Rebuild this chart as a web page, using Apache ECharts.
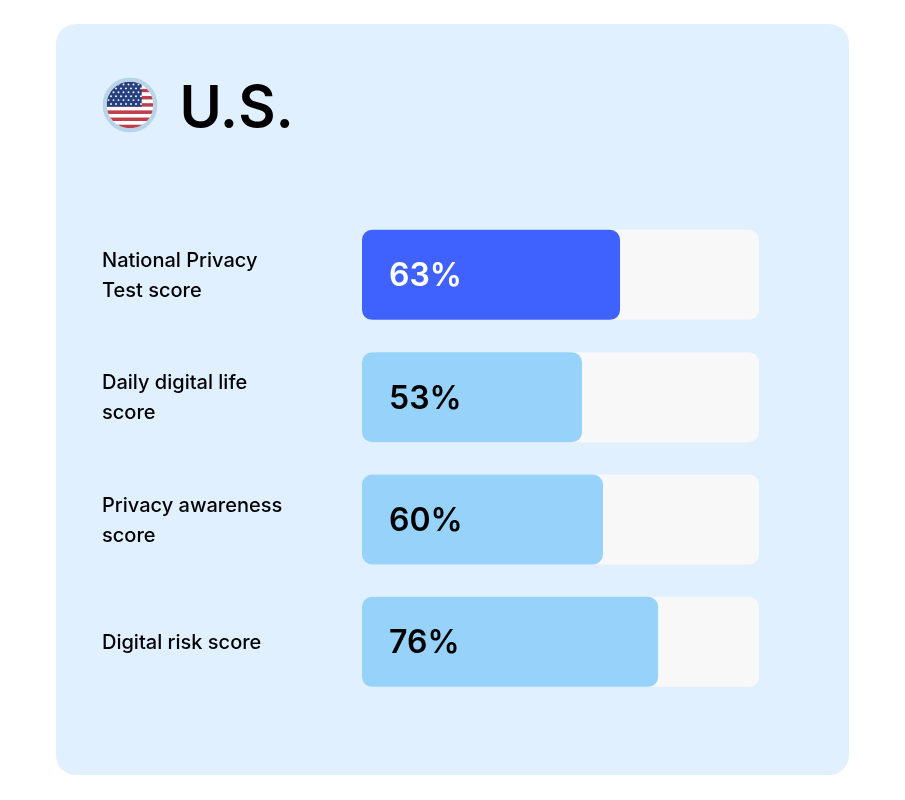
<!DOCTYPE html>
<html><head><meta charset="utf-8">
<style>html,body{margin:0;padding:0;background:#fff}#c{width:905px;height:800px}</style>
<script src="https://cdn.jsdelivr.net/npm/echarts@6/dist/echarts.min.js"></script>
</head><body><div id="c"></div>
<script>
const categories = ['National Privacy\nTest score','Daily digital life\nscore','Privacy awareness\nscore','Digital risk score'];
const scoreLabels = [63,53,60,76];
// Bar lengths as drawn in the picture, in percent of the grey track
const barLengths = [65,55.4,60.7,74.6];
const trackValues = [100,100,100,100];
const barColors = ['#3F62FF','#97D2FA','#97D2FA','#97D2FA'];
const labelColors = ['#FFFFFF','#000000','#000000','#000000'];

function flagSvg(){
  let s='';
  for(let i=0;i<13;i++){s+=`<rect x="106.7" y="${(81.7+i*3.585).toFixed(2)}" width="46.6" height="3.6" fill="${i%2?'#fff':'#BE3F4C'}"/>`;}
  s+='<rect x="106.7" y="81.7" width="35" height="25" fill="#27407F"/>';
  for(let r=0;r<6;r++){for(let c=0;c<7;c++){s+=`<circle cx="${(108.5+c*5+(r%2?2.5:0)).toFixed(1)}" cy="${(84.5+r*3.9).toFixed(1)}" r="0.95" fill="#fff"/>`;}}
  const svg=`<svg xmlns="http://www.w3.org/2000/svg" width="330" height="330" viewBox="102.5 77.5 55 55"><defs><clipPath id="k"><circle cx="130" cy="105" r="23.3"/></clipPath></defs><circle cx="130" cy="105" r="27.5" fill="#B7D4E9"/><g clip-path="url(#k)"><rect x="100" y="75" width="60" height="60" fill="#fff"/>${s}</g></svg>`;
  return 'data:image/svg+xml;charset=utf-8,'+encodeURIComponent(svg);
}

const chart = echarts.init(document.getElementById('c'),null,{renderer:'canvas'});
chart.setOption({
  animation:false,
  backgroundColor:'#FFFFFF',
  textStyle:{fontFamily:'Inter'},
  title:{text:'U.S.',left:174.5,top:68,textStyle:{fontFamily:'Inter',fontSize:57.5,fontWeight:600,color:'#000',lineHeight:74}},
  graphic:[
    {type:'rect',z:-10,silent:true,shape:{x:56,y:24,width:793,height:751,r:20},style:{fill:'#E0F0FF'}},
    {type:'image',z:1,silent:true,style:{image:flagSvg(),x:102.5,y:77.5,width:55,height:55}}
  ],
  grid:[
    {left:362,top:213.7,width:397,height:489.3},
    {left:362,top:214.7,width:397,height:489.3}
  ],
  xAxis:[
    {gridIndex:0,type:'value',min:0,max:100,show:false},
    {gridIndex:1,type:'value',min:0,max:100,show:false}
  ],
  yAxis:[
    {gridIndex:0,type:'category',inverse:true,data:categories,show:false},
    {gridIndex:1,type:'category',inverse:true,data:categories,
     axisLine:{show:false},axisTick:{show:false},
     axisLabel:{align:'left',margin:260,fontFamily:'Inter',fontSize:20,fontWeight:500,lineHeight:30,color:'#000'}}
  ],
  series:[
    {type:'bar',data:trackValues,barWidth:90,barGap:'-100%',silent:true,
     itemStyle:{color:'#F8F8F8',borderRadius:10}},
    {type:'bar',barWidth:90,barGap:'-100%',silent:true,
     data:barLengths.map((v,i)=>({value:v,
       itemStyle:{color:barColors[i],borderRadius:10},
       label:{show:true,position:'insideLeft',distance:27,offset:[0,1.8],formatter:scoreLabels[i]+'%',
         fontFamily:'Inter',fontSize:32,fontWeight:600,color:labelColors[i]}}))}
  ]
});
</script></body></html>
